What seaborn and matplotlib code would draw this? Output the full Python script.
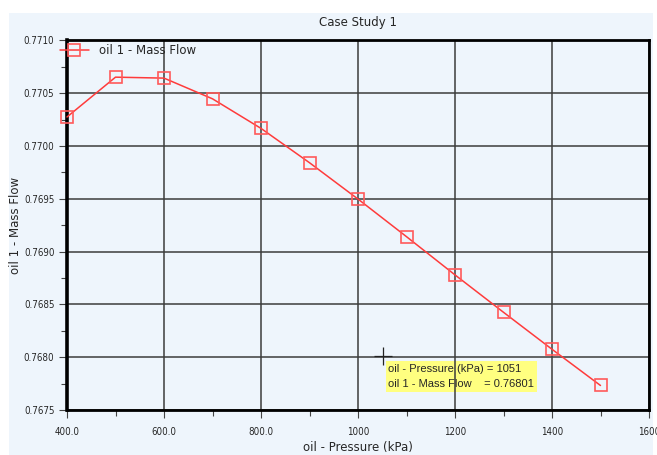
import matplotlib
matplotlib.use("Agg")
import matplotlib.pyplot as plt
import seaborn as sns
import pandas as pd
from matplotlib.patches import Rectangle
from matplotlib.ticker import MultipleLocator, FixedLocator, FixedFormatter

# ---- data ----
pressure_kpa = [400, 500, 600, 700, 800, 900, 1000, 1100, 1200, 1300, 1400, 1500]
mass_flow = [0.770274, 0.770651, 0.770642, 0.770446, 0.770166, 0.769841,
             0.769497, 0.769141, 0.768779, 0.768425, 0.768075, 0.767732]
x_ticks = [400, 600, 800, 1000, 1200, 1400, 1600]
x_tick_labels = ["400.0", "600.0", "800.0", "1000", "1200", "1400", "1600"]
y_ticks = [0.7675, 0.7680, 0.7685, 0.7690, 0.7695, 0.7700, 0.7705, 0.7710]
y_tick_labels = ["0.7675", "0.7680", "0.7685", "0.7690", "0.7695", "0.7700", "0.7705", "0.7710"]
series_name = "oil 1 - Mass Flow"
title = "Case Study 1"
x_label = "oil - Pressure (kPa)"
y_label = "oil 1 - Mass Flow"
cursor_x, cursor_y = 1051, 0.76801
tooltip_text = "oil - Pressure (kPa) = 1051\noil 1 - Mass Flow    = 0.76801"

df = pd.DataFrame({"Pressure": pressure_kpa, "Flow": mass_flow, "Series": series_name})

sns.set_style("white")
plt.rcParams["font.family"] = ["DejaVu Sans"]
plt.rcParams["axes.axisbelow"] = True

BG = "#EEF5FC"
RED = "#FF3B3B"

fig = plt.figure(figsize=(6.57, 4.55), dpi=100)
fig.patch.set_facecolor("white")
fig.patches.append(Rectangle((9 / 657, 0), (653 - 9) / 657, (455 - 13) / 455,
                             transform=fig.transFigure, facecolor=BG, edgecolor="none", zorder=-10))
ax = fig.add_axes([67 / 657, 1 - 410 / 455, (649 - 67) / 657, (410 - 40.3) / 455])
ax.set_facecolor(BG)

sns.lineplot(data=df, x="Pressure", y="Flow", hue="Series", palette=[RED], ax=ax,
             marker="s", markersize=8, markerfacecolor="none", markeredgecolor="#FF5A5A",
             markeredgewidth=1.2, linewidth=1.1, zorder=5, clip_on=False)

ax.set_xlim(400, 1600)
ax.set_ylim(0.7675, 0.7710)
ax.xaxis.set_major_locator(FixedLocator(x_ticks))
ax.xaxis.set_major_formatter(FixedFormatter(x_tick_labels))
ax.xaxis.set_minor_locator(MultipleLocator(100))
ax.yaxis.set_major_locator(FixedLocator(y_ticks))
ax.yaxis.set_major_formatter(FixedFormatter(y_tick_labels))
ax.yaxis.set_minor_locator(MultipleLocator(0.00025))

ax.grid(True, which="major", color="#3c3c3c", linewidth=1.1)
for sp in ax.spines.values():
    sp.set_visible(True)
    sp.set_color("black")
    sp.set_linewidth(2)
    sp.set_zorder(4)
ax.spines["left"].set_linewidth(2.6)

ax.tick_params(axis="both", which="major", direction="out", length=6, width=0.8,
               color="#444444", labelsize=7, pad=3, bottom=True, left=True)
ax.tick_params(axis="both", which="minor", direction="out", length=4, width=0.8,
               color="#444444", bottom=True, left=True)
for lab in ax.get_xticklabels() + ax.get_yticklabels():
    lab.set_fontstretch("condensed")
ax.tick_params(axis="x", pad=6)

ax.set_title(title, fontsize=8.5, pad=10)
ax.set_xlabel(x_label, fontsize=8.5)
ax.set_ylabel(y_label, fontsize=8.5)
ax.xaxis.set_label_coords(0.5, -0.083)
ax.yaxis.set_label_coords(-0.078, 0.5)

leg = ax.legend(loc="upper left", bbox_to_anchor=(-0.012, 0.989), frameon=False,
                fontsize=8.5, handlelength=2.45, handletextpad=0.85, borderaxespad=0,
                borderpad=0)
leg.set_title(None)
leg.set_zorder(10)

ax.plot([cursor_x], [cursor_y], marker="+", markersize=13, color="#222222",
        markeredgewidth=0.9, zorder=6)
ax.annotate(tooltip_text, xy=(cursor_x, cursor_y), xytext=(4, -5.5), textcoords="offset points",
            ha="left", va="top", fontsize=8, family=["Liberation Sans", "DejaVu Sans"],
            linespacing=1.7, zorder=0.3,
            bbox=dict(boxstyle="square,pad=0.25", facecolor="#FFFF80", edgecolor="none"))

fig.savefig("out.png", dpi=100)
